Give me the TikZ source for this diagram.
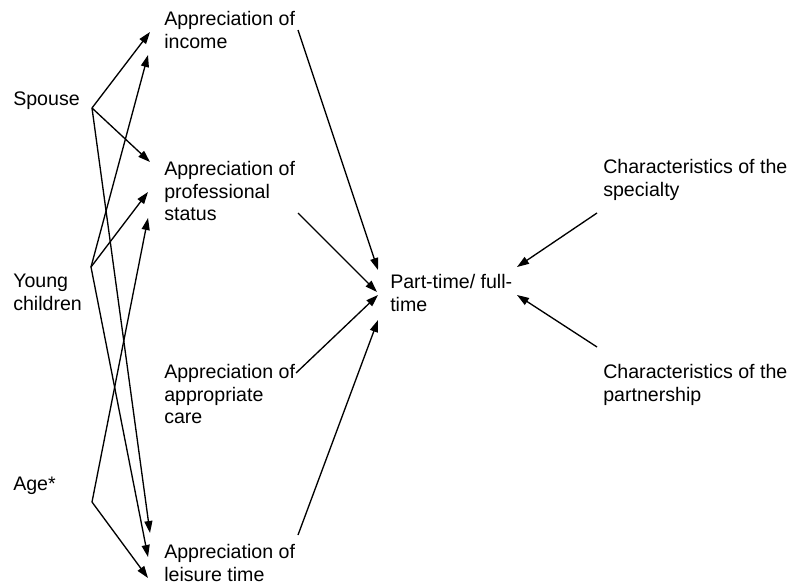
\documentclass[tikz,border=0pt]{standalone}
\usepackage{fontspec}
\setmainfont{Liberation Sans}
\usetikzlibrary{arrows.meta}

\tikzset{
  lbl/.style={anchor=north west, inner sep=0pt, align=left,
    font=\fontsize{14.7}{16.9}\selectfont},
  arr/.style={-{Triangle[length=9pt,width=6pt]}, line width=1pt},
}

\begin{document}
\begin{tikzpicture}[x=0.75pt,y=-0.75pt]
  \useasboundingbox (0,0) rectangle (791,585);

  % determinants
  \node[lbl] (spouse) at (13,92) {Spouse};
  \node[lbl] (young) at (13,274) {Young\\children};
  \node[lbl] (age) at (13,477) {Age*};

  % appreciations
  \node[lbl] (income) at (164,11) {Appreciation of\\income};
  \node[lbl] (status) at (164,161) {Appreciation of\\professional\\status};
  \node[lbl] (care) at (164,364) {Appreciation of\\appropriate\\care};
  \node[lbl] (leisure) at (164,544) {Appreciation of\\leisure time};

  % outcome and context
  \node[lbl] (ptft) at (390,274) {Part-time/ full-\\time};
  \node[lbl] (spec) at (603,159) {Characteristics of the\\specialty};
  \node[lbl] (partner) at (603,364) {Characteristics of the\\partnership};

  %%%%
  \coordinate (sp) at ([shift={(79,16)}]spouse.north west);
  \coordinate (yc) at ([shift={(78,-7)}]young.north west);
  \coordinate (ag) at ([shift={(79,25)}]age.north west);

  \draw[arr] (sp) -- ([shift={(-14,21)}]income.north west);
  \draw[arr] (sp) -- ([shift={(-14,1)}]status.north west);
  \draw[arr] (sp) -- ([shift={(-14,-11)}]leisure.north west);

  \draw[arr] (yc) -- ([shift={(-16,44)}]income.north west);
  \draw[arr] (yc) -- ([shift={(-16,31)}]status.north west);
  \draw[arr] (yc) -- ([shift={(-16,13)}]leisure.north west);

  \draw[arr] (ag) -- ([shift={(-16,57)}]status.north west);
  \draw[arr] (ag) -- ([shift={(-16,34)}]leisure.north west);

  %%%%
  \draw[arr] ([shift={(134,19)}]income.north west) -- ([shift={(-12,-4)}]ptft.north west);
  \draw[arr] ([shift={(134,52)}]status.north west) -- ([shift={(-13,18)}]ptft.north west);
  \draw[arr] ([shift={(132,9)}]care.north west) -- ([shift={(-12,21)}]ptft.north west);
  \draw[arr] ([shift={(134,-9)}]leisure.north west) -- ([shift={(-12,46)}]ptft.north west);

  \draw[arr] ([shift={(-6,54)}]spec.north west) -- ([shift={(127,-7)}]ptft.north west);
  \draw[arr] ([shift={(-6,-17)}]partner.north west) -- ([shift={(127,21)}]ptft.north west);
\end{tikzpicture}
\end{document}
